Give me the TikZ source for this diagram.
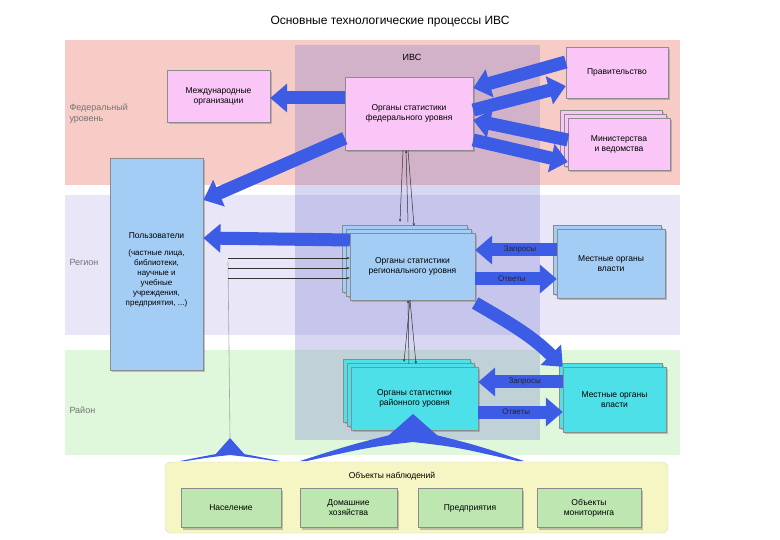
\documentclass[tikz,border=0pt]{standalone}
\usepackage{fontspec}
\setmainfont{Liberation Sans}
\usetikzlibrary{arrows.meta,shadows,calc}
\definecolor{fedbg}{HTML}{F7CCC6}
\definecolor{regbg}{HTML}{E8E6F7}
\definecolor{raibg}{HTML}{DFF7DA}
\definecolor{ivs}{HTML}{7070D0}
\definecolor{pinkbox}{HTML}{F9C6F7}
\definecolor{bluebox}{HTML}{A4CDF6}
\definecolor{cyanbox}{HTML}{4EE0E8}
\definecolor{greenbox}{HTML}{BDE6B0}
\definecolor{yel}{HTML}{F6F6C4}
\definecolor{arr}{HTML}{3D5CE6}
\tikzset{
  box/.style={draw=black!45, line width=0.4pt, font=\fontsize{8.5}{10}\selectfont, align=center, drop shadow={shadow xshift=2pt,shadow yshift=-2pt,opacity=.45}},
  big/.style={arr, line width=13pt, -{Triangle[width=28pt,length=17pt]}},
  thin/.style={black!80, line width=0.5pt, -{Stealth[length=3pt]}},
  lvl/.style={text=black!55, font=\fontsize{9}{11}\selectfont, align=left, anchor=west},
  lab/.style={text=black!85, font=\fontsize{8}{9}\selectfont}
}
\begin{document}
\begin{tikzpicture}[x=1pt,y=-1pt]
\useasboundingbox (0,0) rectangle (780,540);
\fill[white] (0,0) rectangle (780,540);
\node (title) at (390,22) {\fontsize{12}{14}\selectfont Основные технологические процессы ИВС};
% bands
\fill[fedbg] (65,40) rectangle (680,185);
\fill[regbg] (65,195) rectangle (680,335);
\fill[raibg] (65,350) rectangle (680,455);
\fill[ivs,opacity=.28] (295,45) rectangle (540,440);
\node (ivsl) at (412,57) {\fontsize{9}{10}\selectfont ИВС};
\node[lvl] (l1) at (66,114) {Федеральный\\уровень};
\node[lvl] (l2) at (66,262) {Регион};
\node[lvl] (l3) at (66,410) {Район};
% observation container
\fill[yel, draw=black!15, rounded corners=6pt] (165,462) rectangle (668,533);
\node (obs) at (392,476) {\fontsize{8.5}{10}\selectfont Объекты наблюдений};
% boxes
\node[box, fill=pinkbox, minimum width=103pt, minimum height=52pt] (intl) at (218.5,96) {Международные\\организации};
\node[box, fill=pinkbox, minimum width=128pt, minimum height=73pt] (fed) at (409,113.5) {Органы статистики\\федерального уровня};
\node[box, fill=pinkbox, minimum width=102pt, minimum height=51pt] (gov) at (617,72.5) {Правительство};
\node[box, fill=pinkbox, minimum width=102pt, minimum height=52pt] at (611,136) {};
\node[box, fill=pinkbox, minimum width=102pt, minimum height=52pt] at (615,140) {};
\node[box, fill=pinkbox, minimum width=102pt, minimum height=52pt] (min) at (619,144) {Министерства\\и ведомства};
\node[box, fill=bluebox, minimum width=93pt, minimum height=212pt, anchor=north west] (users) at (110,158) {};
\node[font=\fontsize{8.5}{10}\selectfont, align=center] (ut) at (156.5,236) {Пользователи};
\node[font=\fontsize{8}{10}\selectfont, align=center] (ud) at (156.5,278) {(частные лица,\\библиотеки,\\научные и\\учебные\\учреждения,\\предприятия, ...)};
\node[box, fill=bluebox, minimum width=125pt, minimum height=67pt] at (404.5,258.5) {};
\node[box, fill=bluebox, minimum width=125pt, minimum height=67pt] at (408.5,262.5) {};
\node[box, fill=bluebox, minimum width=125pt, minimum height=67pt] (reg) at (412.5,266.5) {Органы статистики\\регионального уровня};
\node[box, fill=bluebox, minimum width=108pt, minimum height=69pt] at (607,260) {};
\node[box, fill=bluebox, minimum width=108pt, minimum height=69pt] (loc1) at (611,264) {Местные органы\\власти};
\node[box, fill=cyanbox, minimum width=127pt, minimum height=63pt] at (406.5,390.5) {};
\node[box, fill=cyanbox, minimum width=127pt, minimum height=63pt] at (410.5,394.5) {};
\node[box, fill=cyanbox, minimum width=127pt, minimum height=63pt] (rai) at (414.5,398.5) {Органы статистики\\районного уровня};
\node[box, fill=cyanbox, minimum width=103pt, minimum height=65pt] at (610.5,395.5) {};
\node[box, fill=cyanbox, minimum width=103pt, minimum height=65pt] (loc2) at (614.5,399.5) {Местные органы\\власти};
\node[box, fill=greenbox, minimum width=100pt, minimum height=39pt] (pop) at (231,508) {Население};
\node[box, fill=greenbox, minimum width=97pt, minimum height=39pt] (hh) at (348.5,508) {Домашние\\хозяйства};
\node[box, fill=greenbox, minimum width=104pt, minimum height=39pt] (ent) at (470,508) {Предприятия};
\node[box, fill=greenbox, minimum width=104pt, minimum height=39pt] (mon) at (589,508) {Объекты\\мониторинга};
% coordinates
\coordinate (a1) at (230,438);
\coordinate (a2) at (413,414);
\coordinate (u1) at (228,258); \coordinate (u2) at (228,268); \coordinate (u3) at (228,278);
% big arrows
\draw[big] (fed.west |- 0,98) -- (intl.east |- 0,98);
\draw[big] (gov.west |- 0,62) -- (fed.east |- 0,88);
\draw[big] (fed.east |- 0,110) -- (gov.west |- 0,86);
\draw[big] (min.west |- 0,140) -- (fed.east |- 0,120);
\draw[big] (fed.east |- 0,140) -- (min.west |- 0,162);
\draw[big] (fed.south west) ++(0,-12) -- (users.north east |- 0,200);
\draw[big] (reg.west |- 0,240) -- (users.east |- 0,238);
\draw[big] (loc1.west |- 0,250) -- node[lab,pos=.45]{Запросы} (reg.east |- 0,250);
\draw[big] (reg.east |- 0,279) -- node[lab,pos=.45]{Ответы} (loc1.west |- 0,279);
\draw[big] (reg.east |- 0,303) to[out=-30,in=135] (loc2.north west);
\draw[big] (loc2.west |- 0,382) -- node[lab,pos=.45]{Запросы} (rai.east |- 0,382);
\draw[big] (rai.east |- 0,412) -- node[lab,pos=.45]{Ответы} (loc2.west |- 0,412);
% fan arrows
\fill[arr] (a1) -- (214,456) -- (222,453) .. controls (205,456) .. (180,461) -- (186,461) .. controls (212,457) .. (230,455) .. controls (248,457) .. (274,461) -- (280,461) .. controls (255,456) .. (238,453) -- (246,456) -- cycle;
\fill[arr] (a2) -- (388,436) -- (398,433) .. controls (350,445) .. (300,461) -- (307,461) .. controls (370,447) .. (413,442) .. controls (456,447) .. (517,461) -- (524,461) .. controls (476,445) .. (428,433) -- (438,436) -- cycle;
% thin lines
\draw[black!35, line width=0.6pt] (u1 |- 0,262) -- (a1);
\draw[thin] (u1) -- (reg.west |- u1);
\draw[thin] (u2) -- (reg.west |- u2);
\draw[thin] (u3) -- (reg.west |- u3);
\draw[thin] (fed.south -| 403,0) -- (400,222);
\draw[thin] (408,222) -- (fed.south -| 406,0);
\draw[thin] (fed.south -| 408,0) -- (414,226);
\draw[thin] (reg.south -| 410,0) -- (404,362);
\draw[thin] (409,364) -- (reg.south -| 408,0);
\draw[thin] (reg.south -| 410,0) -- (416,364);
\end{tikzpicture}
\end{document}
